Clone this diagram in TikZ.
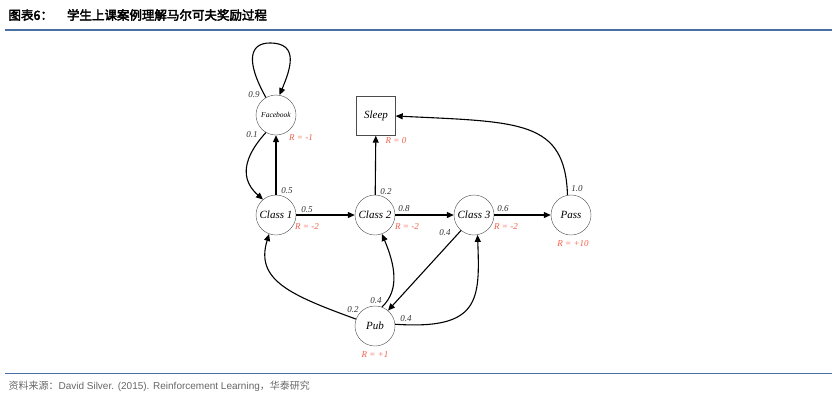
\documentclass[tikz,border=0pt]{standalone}
\usepackage{fontspec}
\setmainfont{Liberation Serif}
\newfontfamily\cjk{Noto Sans CJK SC}
\newfontfamily\cjkb{Noto Sans CJK SC}[FakeBold=3]
\newfontfamily\arial{Liberation Sans}
\usetikzlibrary{arrows.meta}
\definecolor{hdr}{HTML}{4A6FA5}
\definecolor{rew}{HTML}{F0604A}
\begin{document}
\begin{tikzpicture}[x=1pt,y=-1pt,
  st/.style={circle,draw=black!70,minimum size=40pt,inner sep=0pt,font=\itshape\fontsize{11}{11}\selectfont},
  edge/.style={-{Triangle[length=7pt,width=6pt]},line width=1.1pt},
  pr/.style={font=\itshape\fontsize{9}{9}\selectfont,text=black!80},
  rw/.style={font=\itshape\fontsize{9}{9}\selectfont,text=rew}]
\useasboundingbox (0,0) rectangle (837,402);
\node[anchor=west,font=\cjkb\fontsize{12.5}{12.5}\selectfont] (title) at (5,15) {图表6：\hspace{14pt}学生上课案例理解马尔可夫奖励过程};
\draw[hdr,line width=1.2pt] (5,30) -- (832,30);
\draw[hdr,line width=1pt] (5,373) -- (832,373);
\node[anchor=west,text=black!60,font=\fontsize{10}{10}\selectfont] (src) at (5,386) {\cjk 资料来源：\arial David Silver. (2015). Reinforcement Learning\cjk，华泰研究};
\node[st,font=\itshape\fontsize{7.5}{7.5}\selectfont] (fb) at (276,115) {Facebook};
\node[draw=black!70,minimum size=39pt,inner sep=0pt,font=\itshape\fontsize{11}{11}\selectfont] (sl) at (376,116) {Sleep};
\node[st] (c1) at (276,215) {Class 1};
\node[st] (c2) at (375,215) {Class 2};
\node[st] (c3) at (474,215) {Class 3};
\node[st] (ps) at (571,215) {Pass};
\node[st] (pb) at (375,326) {Pub};
\draw[edge] (fb.120) .. controls (245,60) and (250,43) .. (270,43) .. controls (300,43) and (290,70) .. (fb.80);
\draw[edge] (fb.240) .. controls (250,150) and (235,175) .. (c1.130);
\draw[edge] (c1) -- (fb);
\draw[edge] (c2) -- (sl);
\draw[edge] (c1) -- (c2);
\draw[edge] (c2) -- (c3);
\draw[edge] (c3) -- (ps);
\draw[edge] (ps.100) .. controls (565,120) and (520,122) .. (sl.east);
\draw[edge] (c3.230) -- (pb.50);
\draw[edge] (pb.160) .. controls (290,295) and (255,280) .. (c1.250);
\draw[edge] (pb.70) .. controls (400,290) and (395,265) .. (c2.290);
\draw[edge] (pb.5) .. controls (480,330) and (480,300) .. (c3.280);
\node[pr] (p1) at (254,95) {0.9};
\node[pr] (p2) at (252,135) {0.1};
\node[pr] (p3) at (287,191) {0.5};
\node[pr] (p4) at (307,210) {0.5};
\node[pr] (p5) at (386,192) {0.2};
\node[pr] (p6) at (404,209) {0.8};
\node[pr] (p7) at (503,209) {0.6};
\node[pr] (p8) at (445,233) {0.4};
\node[pr] (p9) at (577,189) {1.0};
\node[pr] (p10) at (353,310) {0.2};
\node[pr] (p11) at (376,301) {0.4};
\node[pr] (p12) at (406,319) {0.4};
\node[rw] (r1) at (301,138) {R = -1};
\node[rw] (r2) at (307,227) {R = -2};
\node[rw] (r3) at (396,141) {R = 0};
\node[rw] (r4) at (407,227) {R = -2};
\node[rw] (r5) at (506,227) {R = -2};
\node[rw] (r6) at (573,244) {R = +10};
\node[rw] (r7) at (375,355) {R = +1};
\end{tikzpicture}
\end{document}
